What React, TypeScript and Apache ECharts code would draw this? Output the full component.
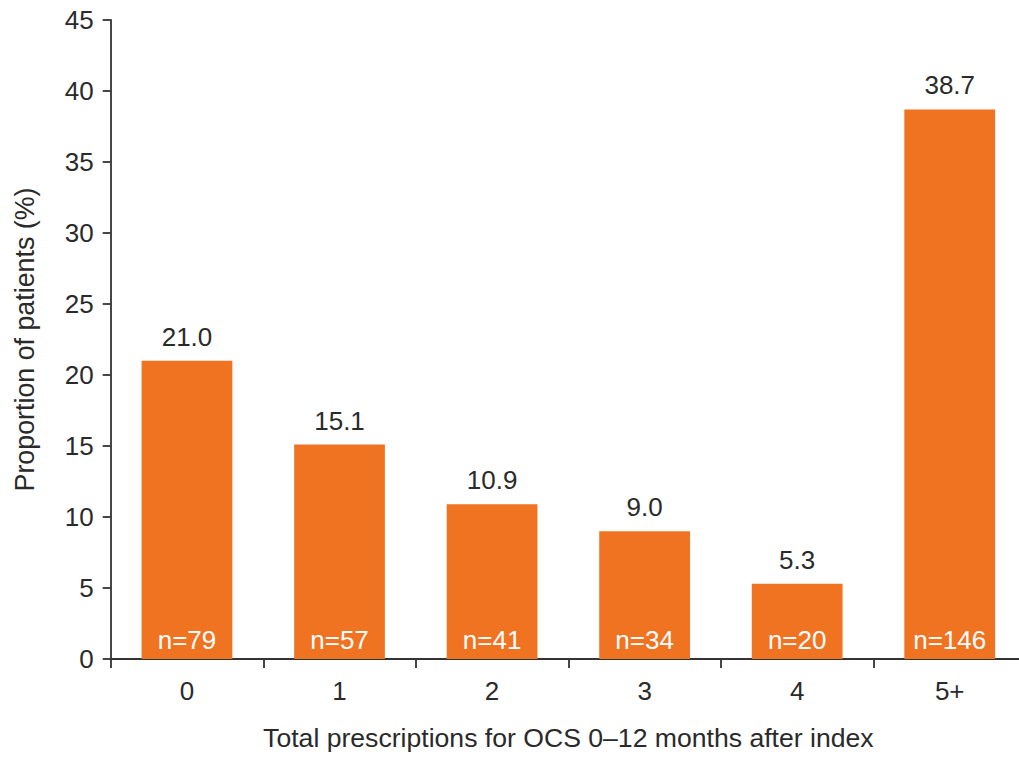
import React, { useEffect, useRef } from "react";
import * as echarts from "echarts";

const categories = ["0", "1", "2", "3", "4", "5+"];
const proportions = [21.0, 15.1, 10.9, 9.0, 5.3, 38.7];
const counts = ["n=79", "n=57", "n=41", "n=34", "n=20", "n=146"];
const yTicks = { min: 0, max: 45, interval: 5 };

const FONT = "'Liberation Sans', Arial, Helvetica, sans-serif";
const TEXT = "#2a2a2a";
const BAR = "#F07322";

export default function App() {
  const ref = useRef<HTMLDivElement>(null);
  useEffect(() => {
    if (!ref.current) return;
    const chart = echarts.init(ref.current, undefined, { renderer: "svg" });
    chart.setOption({
      animation: false,
      backgroundColor: "#ffffff",
      textStyle: { fontFamily: FONT },
      grid: { left: 110.7, top: 20, bottom: 99, right: 4, containLabel: false },
      xAxis: {
        type: "category",
        data: categories,
        name: "Total prescriptions for OCS 0\u201312 months after index",
        nameLocation: "middle",
        nameGap: 65,
        nameTextStyle: { color: TEXT, fontSize: 26.6, fontFamily: FONT },
        axisLine: { lineStyle: { color: "#333333", width: 1.8 } },
        axisTick: { show: true, length: 9, lineStyle: { color: "#333333", width: 1.8 } },
        axisLabel: { color: TEXT, fontSize: 26, margin: 19, fontFamily: FONT },
      },
      yAxis: {
        type: "value",
        min: yTicks.min,
        max: yTicks.max,
        interval: yTicks.interval,
        name: "Proportion of patients (%)",
        nameLocation: "middle",
        nameGap: 72,
        nameTextStyle: { color: TEXT, fontSize: 26.8, fontFamily: FONT },
        axisLine: { show: true, lineStyle: { color: "#333333", width: 1.8 } },
        axisTick: { show: true, length: 8, lineStyle: { color: "#333333", width: 1.8 } },
        axisLabel: { color: TEXT, fontSize: 26, margin: 17, fontFamily: FONT },
        splitLine: { show: false },
      },
      series: [
        {
          type: "bar",
          data: proportions,
          barWidth: "59.5%",
          itemStyle: { color: BAR },
          label: {
            show: true,
            position: "top",
            distance: 11,
            color: TEXT,
            fontSize: 26,
            fontFamily: FONT,
            formatter: (p: any) => Number(p.value).toFixed(1),
          },
        },
        {
          type: "bar",
          data: proportions,
          barWidth: "59.5%",
          barGap: "-100%",
          itemStyle: { color: "transparent" },
          silent: true,
          label: {
            show: true,
            position: "insideBottom",
            distance: 6,
            color: "#ffffff",
            fontSize: 26,
            fontFamily: FONT,
            formatter: (p: any) => counts[p.dataIndex],
          },
        },
      ],
    });
    return () => chart.dispose();
  }, []);
  return (
    <div
      style={{
        position: "fixed",
        left: 0,
        top: 0,
        width: 1019,
        height: 758,
        overflow: "hidden",
        background: "#ffffff",
      }}
    >
      <div ref={ref} style={{ width: 1030, height: 758 }} />
    </div>
  );
}
